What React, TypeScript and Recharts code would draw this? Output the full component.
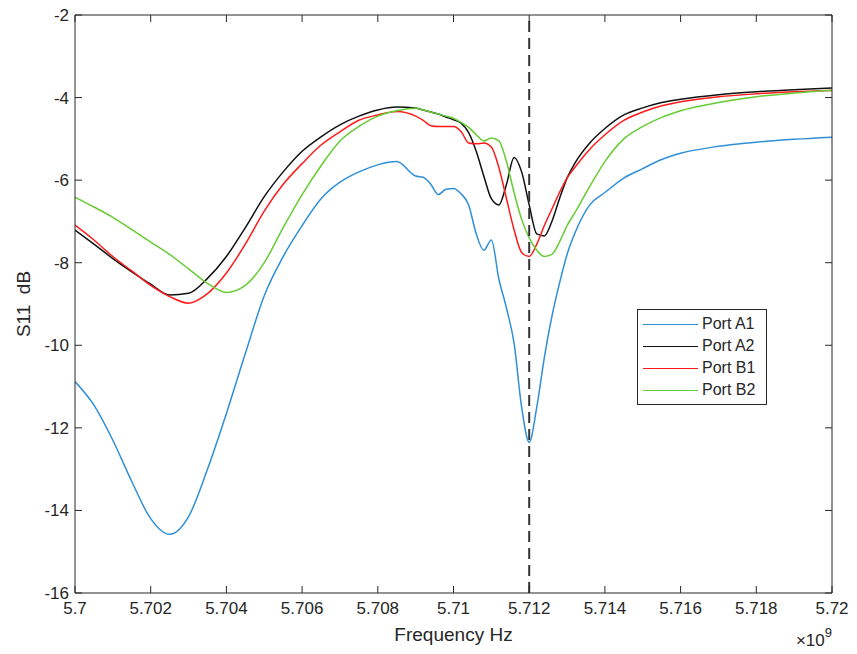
import { LineChart, Line, XAxis, YAxis, ReferenceLine, Legend } from "recharts"

const freq = [
  5.7, 5.7005, 5.701, 5.7015, 5.702, 5.7025, 5.703, 5.7035, 5.704, 5.7045, 5.705, 5.7055, 5.706, 5.7065, 5.707, 5.7075,
  5.708, 5.7085, 5.709, 5.7092, 5.7094, 5.7096, 5.7098, 5.71, 5.7102, 5.7104, 5.7106, 5.7108, 5.711, 5.7112, 5.7114,
  5.7116, 5.7118, 5.712, 5.7122, 5.7124, 5.7126, 5.7128, 5.713, 5.7132, 5.7136, 5.714, 5.7145, 5.715, 5.7155, 5.716,
  5.717, 5.718, 5.719, 5.72,
]

const portA1 = [
  -10.88, -11.45, -12.3, -13.3, -14.2, -14.58, -14.15, -13.0, -11.65, -10.2, -8.8, -7.85, -7.1, -6.45, -6.05, -5.8,
  -5.63, -5.55, -5.9, -5.93, -6.1, -6.35, -6.22, -6.2, -6.33, -6.6, -7.3, -7.7, -7.45, -8.4, -9.1,
  -9.95, -11.5, -12.35, -11.5, -10.3, -9.3, -8.5, -7.8, -7.3, -6.6, -6.3, -5.95, -5.72, -5.5, -5.35,
  -5.18, -5.08, -5.01, -4.96,
]

const portA2 = [
  -7.21, -7.55, -7.9, -8.22, -8.52, -8.78, -8.74, -8.38, -7.85, -7.15, -6.4, -5.8, -5.3, -4.95, -4.66, -4.45,
  -4.3, -4.23, -4.25, -4.3, -4.35, -4.4, -4.47, -4.54, -4.62, -4.85, -5.3, -5.9, -6.45, -6.6, -6.1,
  -5.45, -5.8, -6.6, -7.3, -7.35, -7.0, -6.45, -5.95, -5.6, -5.1, -4.75, -4.42, -4.25, -4.12, -4.04,
  -3.93, -3.86, -3.81, -3.77,
]

const portB1 = [
  -7.09, -7.45, -7.85, -8.2, -8.55, -8.82, -8.98, -8.75, -8.25, -7.55, -6.75, -6.1, -5.6, -5.15, -4.83, -4.55,
  -4.42, -4.34, -4.45, -4.55, -4.68, -4.7, -4.7, -4.7, -4.82, -5.1, -5.12, -5.1, -5.2, -5.7, -6.45,
  -7.2, -7.75, -7.85, -7.55, -7.1, -6.7, -6.3, -5.95, -5.7, -5.25, -4.9, -4.55, -4.35, -4.2, -4.1,
  -3.98, -3.91, -3.86, -3.83,
]

const portB2 = [
  -6.41, -6.65, -6.9, -7.2, -7.5, -7.8, -8.15, -8.5, -8.72, -8.55, -8.0, -7.15, -6.35, -5.65, -5.05, -4.7,
  -4.45, -4.32, -4.26, -4.3, -4.35, -4.4, -4.45, -4.5, -4.6, -4.72, -4.9, -5.05, -4.98, -5.05, -5.55,
  -6.3, -6.95, -7.4, -7.7, -7.85, -7.8, -7.5, -7.1, -6.8, -6.15, -5.55, -5.0, -4.7, -4.48, -4.32,
  -4.12, -3.98, -3.89, -3.82,
]

const xTicks = [5.7, 5.702, 5.704, 5.706, 5.708, 5.71, 5.712, 5.714, 5.716, 5.718, 5.72]
const yTicks = [-16, -14, -12, -10, -8, -6, -4, -2]
const markerFreq = 5.712

const series = [
  { key: "a1", name: "Port A1", color: "#2f8fd8" },
  { key: "a2", name: "Port A2", color: "#111111" },
  { key: "b1", name: "Port B1", color: "#ff1a1a" },
  { key: "b2", name: "Port B2", color: "#66cc33" },
]

const data = freq.map((f, i) => ({ f, a1: portA1[i], a2: portA2[i], b1: portB1[i], b2: portB2[i] }))

const FONT = "'Liberation Sans', Arial, Helvetica, sans-serif"
const AX = "#262626"
const TICK = 7

const fmtX = (v: number) => String(Number(v.toFixed(3)))

function BottomTick({ x, y, payload }: any) {
  return (
    <g>
      <line x1={x} x2={x} y1={y} y2={y - TICK} stroke={AX} />
      <text x={x} y={y + 21} textAnchor="middle" fontSize={17} fontFamily={FONT} fill={AX}>
        {fmtX(payload.value)}
      </text>
    </g>
  )
}

function TopTick({ x, y }: any) {
  return <line x1={x} x2={x} y1={y} y2={y + TICK} stroke={AX} />
}

function LeftTick({ x, y, payload }: any) {
  return (
    <g>
      <line x1={x} x2={x + TICK} y1={y} y2={y} stroke={AX} />
      <text x={x - 6} y={y + 6} textAnchor="end" fontSize={17} fontFamily={FONT} fill={AX}>
        {String(payload.value)}
      </text>
    </g>
  )
}

function RightTick({ x, y }: any) {
  return <line x1={x} x2={x - TICK} y1={y} y2={y} stroke={AX} />
}

function XLabel({ viewBox }: any) {
  const { x, y, width } = viewBox
  return (
    <g fontFamily={FONT} fill={AX}>
      <text x={x + width / 2} y={y + 48} textAnchor="middle" fontSize={19}>
        Frequency Hz
      </text>
      <text x={x + width} y={y + 53} textAnchor="end" fontSize={17}>
        ×10
        <tspan fontSize={13} dy={-9}>9</tspan>
      </text>
    </g>
  )
}

function YLabel({ viewBox }: any) {
  const { y, height } = viewBox
  const cx = 30
  const cy = y + height / 2
  return (
    <text
      x={cx}
      y={cy}
      transform={`rotate(-90 ${cx} ${cy})`}
      textAnchor="middle"
      fontSize={19}
      fontFamily={FONT}
      fill={AX}
      style={{ whiteSpace: "pre" }}
    >
      {"S11  dB"}
    </text>
  )
}

function LegendBox() {
  return (
    <div
      style={{
        border: `1px solid ${AX}`,
        background: "#fff",
        width: 130,
        padding: "3px 0 3px 0",
        fontFamily: FONT,
        fontSize: 16,
        color: AX,
        boxSizing: "border-box",
      }}
    >
      {series.map((s) => (
        <div key={s.key} style={{ display: "flex", alignItems: "center", height: 22 }}>
          <div style={{ width: 55, height: 0, borderTop: `1.5px solid ${s.color}`, marginLeft: 5, marginRight: 4 }} />
          <span>{s.name}</span>
        </div>
      ))}
    </div>
  )
}

export default function App() {
  return (
    <div style={{ margin: -8 }}>
      <LineChart width={857} height={654} data={data} margin={{ top: 8, right: 8, bottom: 8, left: 0 }}>
        <XAxis
          xAxisId="b"
          dataKey="f"
          type="number"
          domain={[5.7, 5.72]}
          ticks={xTicks}
          allowDataOverflow
          height={53}
          tickSize={0}
          tickMargin={0}
          tickLine={false}
          tick={<BottomTick />}
          axisLine={{ stroke: AX }}
          interval={0}
          label={<XLabel />}
        />
        <XAxis
          xAxisId="t"
          orientation="top"
          dataKey="f"
          type="number"
          domain={[5.7, 5.72]}
          ticks={xTicks}
          allowDataOverflow
          height={7}
          tickSize={0}
          tickMargin={0}
          tickLine={false}
          tick={<TopTick />}
          axisLine={{ stroke: AX }}
          interval={0}
        />
        <YAxis
          yAxisId="l"
          type="number"
          domain={[-16, -2]}
          ticks={yTicks}
          allowDataOverflow
          width={75}
          tickSize={0}
          tickMargin={0}
          tickLine={false}
          tick={<LeftTick />}
          axisLine={{ stroke: AX }}
          interval={0}
          label={<YLabel />}
        />
        <YAxis
          yAxisId="r"
          orientation="right"
          type="number"
          domain={[-16, -2]}
          ticks={yTicks}
          allowDataOverflow
          width={17}
          tickSize={0}
          tickMargin={0}
          tickLine={false}
          tick={<RightTick />}
          axisLine={{ stroke: AX }}
          interval={0}
        />
        {series.map((s) => (
          <Line
            key={s.key}
            xAxisId="b"
            yAxisId="l"
            type="monotone"
            dataKey={s.key}
            name={s.name}
            stroke={s.color}
            strokeWidth={1.5}
            dot={false}
            activeDot={false}
            isAnimationActive={false}
          />
        ))}
        <ReferenceLine xAxisId="b" yAxisId="l" x={markerFreq} stroke="#333333" strokeWidth={2} strokeDasharray="11 6" />
        <Legend
          layout="vertical"
          align="center"
          verticalAlign="middle"
          content={<LegendBox />}
          wrapperStyle={{ left: 637, top: 309, width: 130, bottom: "auto", right: "auto" }}
        />
      </LineChart>
    </div>
  )
}
